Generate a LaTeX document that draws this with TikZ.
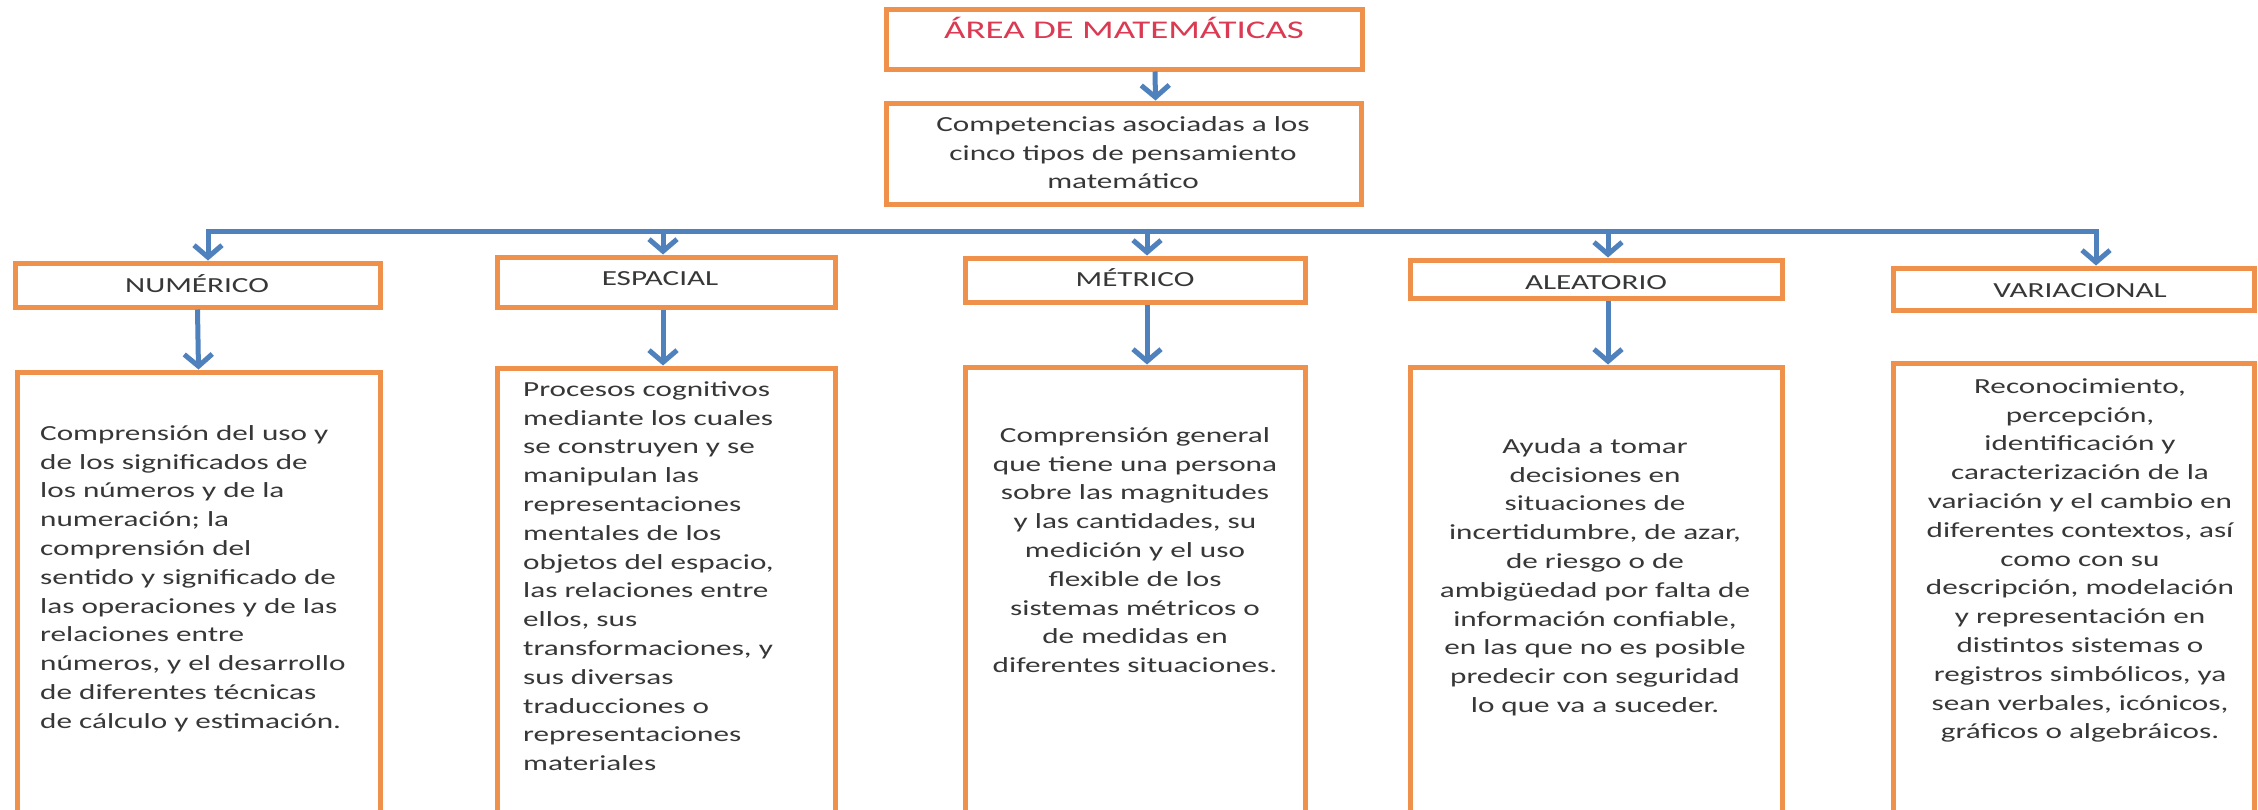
\documentclass[tikz,border=0pt]{standalone}
\usepackage{fontspec}
\setmainfont{Carlito}[FakeStretch=1.45]
\usetikzlibrary{arrows.meta}
\definecolor{boxor}{RGB}{240,145,75}
\definecolor{arrblue}{RGB}{79,129,189}
\definecolor{txt}{RGB}{55,55,55}
\definecolor{ttl}{RGB}{218,58,82}
\begin{document}
\begin{tikzpicture}[x=1pt,y=-1pt,
  box/.style={draw=boxor, line width=5pt, fill=white, inner sep=0pt},
  arr/.style={draw=arrblue, line width=5pt, -{Straight Barb[length=12pt,width=28pt]}},
  arrtwo/.style={draw=arrblue, line width=5pt, line join=miter, {Straight Barb[length=12pt,width=28pt]}-{Straight Barb[length=12pt,width=28pt]}},
  body/.style={text=txt, font=\fontsize{21.5}{28.8}\selectfont, inner sep=0pt},
]
\useasboundingbox[fill=white] (0,0) rectangle (2258,809);

% top level
\node[box, minimum width=476pt, minimum height=60pt] (top) at (1124,39) {};
\node[text=ttl, font=\fontsize{25.5}{30}\selectfont, inner sep=0pt, anchor=base] (toptxt) at (1124,38) {ÁREA DE MATEMÁTICAS};
\node[box, minimum width=475pt, minimum height=101pt] (comp) at (1123.5,153.5) {};
\node[body, align=center, anchor=north] (comptxt) at (1123,111) {\strut Competencias asociadas  a los\\cinco tipos de pensamiento\\matemático};

\draw[arr] ([xshift=31pt]top.south) -- ([xshift=32pt]comp.north);

% category boxes
\node[box, minimum width=365pt, minimum height=44pt] (num) at (197.5,285) {};
\node[body, anchor=base] (numtxt) at (197,292) {NUMÉRICO};
\node[box, minimum width=338pt, minimum height=50pt] (esp) at (666,282) {};
\node[body, anchor=base] (esptxt) at (660,285) {ESPACIAL};
\node[box, minimum width=340pt, minimum height=44pt] (met) at (1135,280) {};
\node[body, anchor=base] (mettxt) at (1135,286) {MÉTRICO};
\node[box, minimum width=372pt, minimum height=38pt] (ale) at (1596,279) {};
\node[body, anchor=base] (aletxt) at (1596,289) {ALEATORIO};
\node[box, minimum width=361pt, minimum height=42pt] (var) at (2073.5,289) {};
\node[body, anchor=base] (vartxt) at (2080,297) {VARIACIONAL};

% bar with arrows
\coordinate (bl) at (208,231);
\coordinate (br) at (2096,231);
\draw[arrtwo] (br |- var.north) -- (br) -- (bl) -- (bl |- num.north);
\draw[arr] (663,231) -- (663,0 |- esp.north);
\draw[arr] (1147,231) -- (1147,0 |- met.north);
\draw[arr] (1608,231) -- (1608,0 |- ale.north);

% description boxes
\node[box, minimum width=363pt, minimum height=458pt] (numd) at (198.5,601) {};
\node[box, minimum width=338pt, minimum height=462pt] (espd) at (666,599) {};
\node[box, minimum width=340pt, minimum height=463pt] (metd) at (1135,598.5) {};
\node[box, minimum width=372pt, minimum height=463pt] (aled) at (1596,598.5) {};
\node[box, minimum width=361pt, minimum height=467pt] (vard) at (2073.5,596.5) {};

\draw[arr] (num.south) -- (numd.north);
\draw[arr] (663,0 |- esp.south) -- (663,0 |- espd.north);
\draw[arr] (1147,0 |- met.south) -- (1147,0 |- metd.north);
\draw[arr] (1608,0 |- ale.south) -- (1608,0 |- aled.north);

\node[body, align=left, anchor=north west] (numdt) at (40,420) {\strut Comprensión del uso y\\de los significados  de\\los números y de la\\numeración;  la\\comprensión del\\sentido y significado de\\las operaciones y de las\\relaciones entre\\números, y el desarrollo\\de diferentes técnicas\\de cálculo  y estimación.};

\node[body, align=left, anchor=north west] (espdt) at (523,376) {\strut Procesos cognitivos\\mediante los cuales\\se construyen y se\\manipulan las\\representaciones\\mentales de  los\\objetos del espacio,\\las relaciones entre\\ellos, sus\\transformaciones, y\\sus diversas\\traducciones o\\representaciones\\materiales};

\node[body, align=center, anchor=north] (metdt) at (1135,422) {\strut Comprensión general\\que tiene una persona\\sobre las magnitudes\\y las cantidades, su\\medición y el uso\\flexible de los\\sistemas métricos o\\de medidas en\\diferentes situaciones.};

\node[body, align=center, anchor=north] (aledt) at (1595,433) {\strut Ayuda a tomar\\decisiones en\\situaciones de\\incertidumbre, de azar,\\de riesgo o de\\ambigüedad por falta de\\información confiable,\\en las que no es posible\\predecir con seguridad\\lo que va a suceder.};

\node[body, align=center, anchor=north] (vardt) at (2080,373) {\strut Reconocimiento,\\percepción,\\identificación y\\caracterización de la\\variación y el cambio en\\diferentes contextos, así\\como con su\\descripción, modelación\\y representación en\\distintos sistemas o\\registros simbólicos, ya\\sean verbales, icónicos,\\gráficos o algebráicos.};
\end{tikzpicture}
\end{document}
